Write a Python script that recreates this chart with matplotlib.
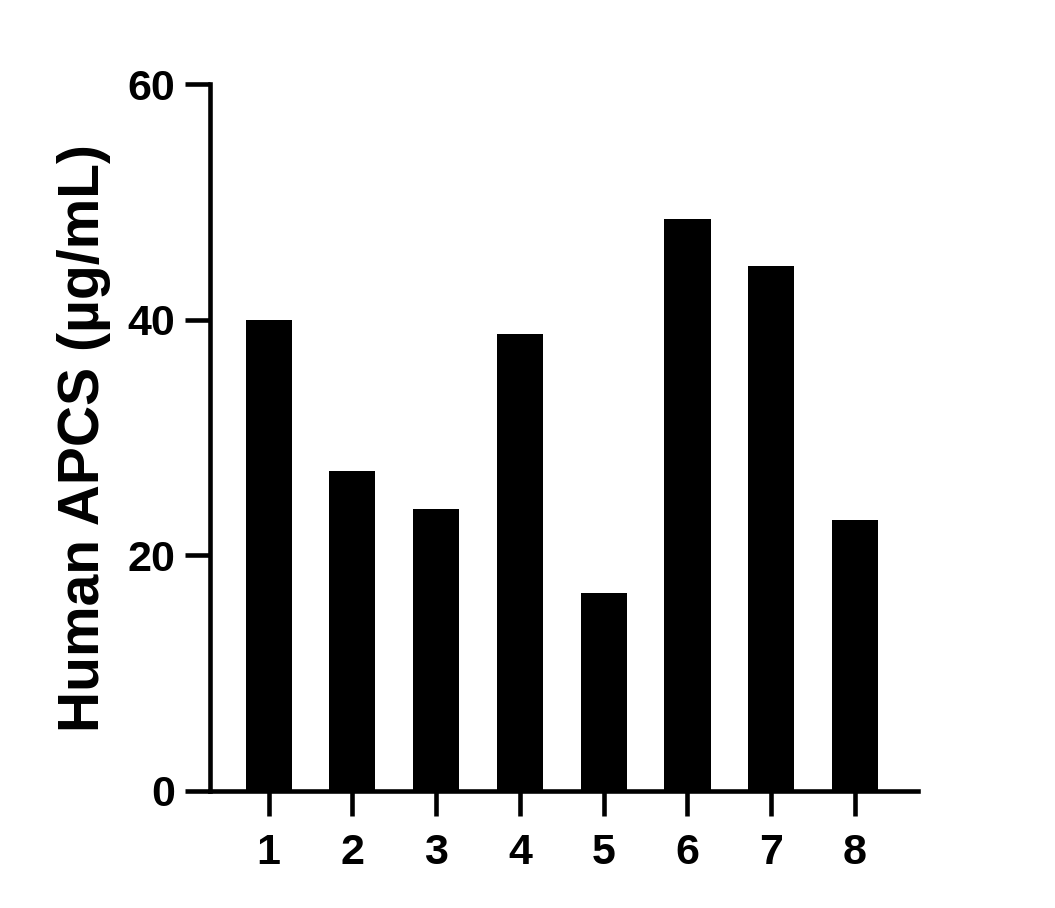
import matplotlib.pyplot as plt

samples = ["1", "2", "3", "4", "5", "6", "7", "8"]
apcs = [40.0, 27.2, 23.9, 38.8, 16.8, 48.6, 44.6, 23.0]
y_ticks = [0, 20, 40, 60]

plt.rcParams["font.family"] = ["Liberation Sans", "DejaVu Sans"]
plt.rcParams["font.weight"] = "bold"

fig = plt.figure(figsize=(10.55, 9.08), dpi=100)
ax = fig.add_axes([0.199, 0.129, 0.671, 0.778])

x = list(range(1, len(samples) + 1))
ax.bar(x, apcs, width=0.55, color="black")

ax.set_xlim(0.3, 8.75)
ax.set_ylim(0, 60)
ax.set_xticks(x)
ax.set_xticklabels(samples)
ax.set_yticks(y_ticks)

for side in ["top", "right"]:
    ax.spines[side].set_visible(False)
for side in ["left", "bottom"]:
    ax.spines[side].set_linewidth(3.3)
ax.spines["left"].set_zorder(5)

ax.tick_params(axis="y", length=18, width=3.3, pad=7, labelsize=31)
ax.tick_params(axis="x", length=18, width=3.3, pad=12, labelsize=31)

ax.set_ylabel("Human APCS (µg/mL)", fontsize=41, fontweight="bold", labelpad=12)

fig.savefig("out.png", dpi=100)
